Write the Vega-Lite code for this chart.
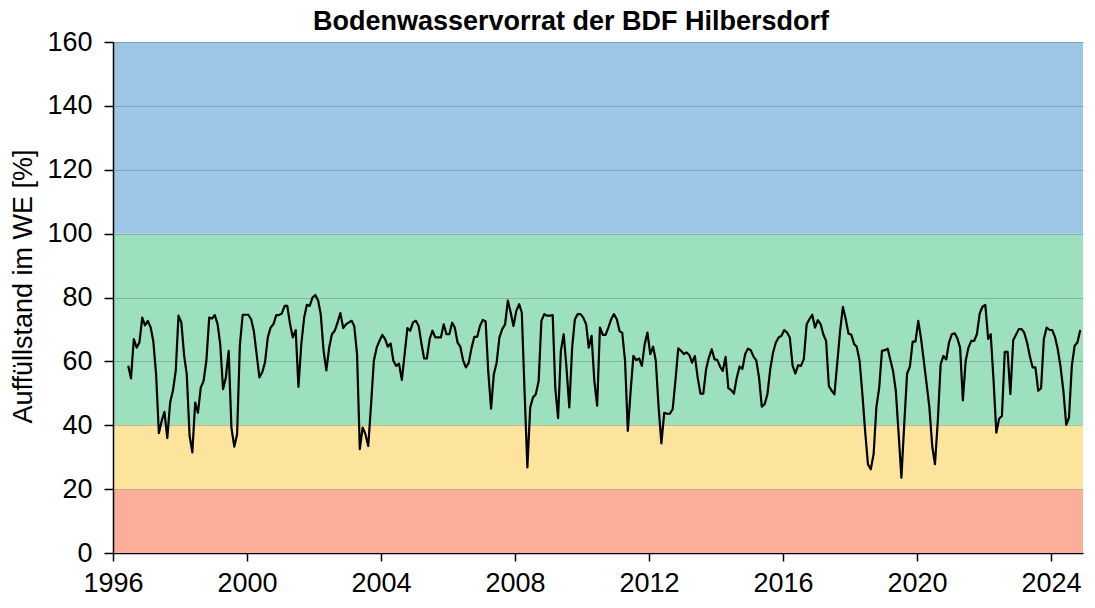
{
"$schema": "https://vega.github.io/schema/vega-lite/v6.json",
"width": 970,
"height": 511,
"autosize": {"type": "none"},
"padding": {"left": 113, "top": 42, "right": 12, "bottom": 55},
"background": "white",
"title": {"text": "Bodenwasservorrat der BDF Hilbersdorf", "font": "Liberation Sans", "fontSize": 27, "fontWeight": "bold", "color": "#000000", "anchor": "middle", "dx": -27, "offset": -8},
"config": {"view": {"stroke": null}, "font": "Liberation Sans"},
"datasets": {
"bands": [
{"lo": 0, "hi": 20, "c": "#FBAE98"},
{"lo": 20, "hi": 40, "c": "#FDE49C"},
{"lo": 40, "hi": 100, "c": "#9DE0BD"},
{"lo": 100, "hi": 160, "c": "#9CC6E6"}
],
"series": [
{"d":"1996-06-15","v":58.6},{"d":"1996-07-15","v":54.7},{"d":"1996-08-15","v":67},{"d":"1996-09-15","v":64.3},{"d":"1996-10-15","v":65.9},{"d":"1996-11-15","v":73.7},{"d":"1996-12-15","v":71.3},
{"d":"1997-01-15","v":72.7},{"d":"1997-02-15","v":70.6},{"d":"1997-03-15","v":66.4},{"d":"1997-04-15","v":56},{"d":"1997-05-15","v":37.5},{"d":"1997-06-15","v":41.4},{"d":"1997-07-15","v":44.2},{"d":"1997-08-15","v":36},{"d":"1997-09-15","v":47.1},{"d":"1997-10-15","v":50.8},{"d":"1997-11-15","v":57},{"d":"1997-12-15","v":74.3},
{"d":"1998-01-15","v":72.2},{"d":"1998-02-15","v":61.7},{"d":"1998-03-15","v":56},{"d":"1998-04-15","v":36.7},{"d":"1998-05-15","v":31.5},{"d":"1998-06-15","v":47.1},{"d":"1998-07-15","v":43.9},{"d":"1998-08-15","v":51.8},{"d":"1998-09-15","v":53.9},{"d":"1998-10-15","v":60.2},{"d":"1998-11-15","v":73.7},{"d":"1998-12-15","v":73.4},
{"d":"1999-01-15","v":74.5},{"d":"1999-02-15","v":71.6},{"d":"1999-03-15","v":65.4},{"d":"1999-04-15","v":51.3},{"d":"1999-05-15","v":54.9},{"d":"1999-06-15","v":63.3},{"d":"1999-07-15","v":39.3},{"d":"1999-08-15","v":33.3},{"d":"1999-09-15","v":37.2},{"d":"1999-10-15","v":65},{"d":"1999-11-15","v":74.6},{"d":"1999-12-15","v":74.6},
{"d":"2000-01-15","v":74.6},{"d":"2000-02-15","v":73.2},{"d":"2000-03-15","v":69.6},{"d":"2000-04-15","v":62.3},{"d":"2000-05-15","v":55},{"d":"2000-06-15","v":56.6},{"d":"2000-07-15","v":59.6},{"d":"2000-08-15","v":67.5},{"d":"2000-09-15","v":70.6},{"d":"2000-10-15","v":71.6},{"d":"2000-11-15","v":74.5},{"d":"2000-12-15","v":74.5},
{"d":"2001-01-15","v":75},{"d":"2001-02-15","v":77.4},{"d":"2001-03-15","v":77.4},{"d":"2001-04-15","v":71.6},{"d":"2001-05-15","v":67.5},{"d":"2001-06-15","v":69.8},{"d":"2001-07-15","v":52},{"d":"2001-08-15","v":65.4},{"d":"2001-09-15","v":73.7},{"d":"2001-10-15","v":77.7},{"d":"2001-11-15","v":77.4},{"d":"2001-12-15","v":80},
{"d":"2002-01-15","v":80.8},{"d":"2002-02-15","v":79},{"d":"2002-03-15","v":74.8},{"d":"2002-04-15","v":63.3},{"d":"2002-05-15","v":57.2},{"d":"2002-06-15","v":64.3},{"d":"2002-07-15","v":68.5},{"d":"2002-08-15","v":69.6},{"d":"2002-09-15","v":72.2},{"d":"2002-10-15","v":75.1},{"d":"2002-11-15","v":70.4},{"d":"2002-12-15","v":71.6},
{"d":"2003-01-15","v":72.2},{"d":"2003-02-15","v":72.7},{"d":"2003-03-15","v":71.1},{"d":"2003-04-15","v":62.3},{"d":"2003-05-15","v":32.5},{"d":"2003-06-15","v":39.3},{"d":"2003-07-15","v":37.2},{"d":"2003-08-15","v":33.5},{"d":"2003-09-15","v":46.6},{"d":"2003-10-15","v":60.2},{"d":"2003-11-15","v":64.3},{"d":"2003-12-15","v":66.4},
{"d":"2004-01-15","v":68.3},{"d":"2004-02-15","v":67},{"d":"2004-03-15","v":64.6},{"d":"2004-04-15","v":65.6},{"d":"2004-05-15","v":60.2},{"d":"2004-06-15","v":58.6},{"d":"2004-07-15","v":59.3},{"d":"2004-08-15","v":54.2},{"d":"2004-09-15","v":62.3},{"d":"2004-10-15","v":70.4},{"d":"2004-11-15","v":69.6},{"d":"2004-12-15","v":72.2},
{"d":"2005-01-15","v":72.7},{"d":"2005-02-15","v":71.1},{"d":"2005-03-15","v":65.9},{"d":"2005-04-15","v":60.9},{"d":"2005-05-15","v":60.9},{"d":"2005-06-15","v":67},{"d":"2005-07-15","v":69.6},{"d":"2005-08-15","v":67.5},{"d":"2005-09-15","v":67.5},{"d":"2005-10-15","v":67.5},{"d":"2005-11-15","v":71.6},{"d":"2005-12-15","v":68.5},
{"d":"2006-01-15","v":68.5},{"d":"2006-02-15","v":72.1},{"d":"2006-03-15","v":70.6},{"d":"2006-04-15","v":65.9},{"d":"2006-05-15","v":64.6},{"d":"2006-06-15","v":60.2},{"d":"2006-07-15","v":58.1},{"d":"2006-08-15","v":59.6},{"d":"2006-09-15","v":64.3},{"d":"2006-10-15","v":67.7},{"d":"2006-11-15","v":67.7},{"d":"2006-12-15","v":71.1},
{"d":"2007-01-15","v":73},{"d":"2007-02-15","v":72.5},{"d":"2007-03-15","v":57},{"d":"2007-04-15","v":45.2},{"d":"2007-05-15","v":56},{"d":"2007-06-15","v":59.6},{"d":"2007-07-15","v":67.5},{"d":"2007-08-15","v":70.1},{"d":"2007-09-15","v":71.6},{"d":"2007-10-15","v":79},{"d":"2007-11-15","v":75.3},{"d":"2007-12-15","v":71.1},
{"d":"2008-01-15","v":75.8},{"d":"2008-02-15","v":77.9},{"d":"2008-03-15","v":75.3},{"d":"2008-04-15","v":50},{"d":"2008-05-15","v":26.8},{"d":"2008-06-15","v":45.6},{"d":"2008-07-15","v":48.7},{"d":"2008-08-15","v":49.7},{"d":"2008-09-15","v":53.9},{"d":"2008-10-15","v":72.7},{"d":"2008-11-15","v":74.8},{"d":"2008-12-15","v":74.3},
{"d":"2009-01-15","v":74.3},{"d":"2009-02-15","v":74.5},{"d":"2009-03-15","v":51.8},{"d":"2009-04-15","v":42.2},{"d":"2009-05-15","v":63.3},{"d":"2009-06-15","v":68.5},{"d":"2009-07-15","v":58.1},{"d":"2009-08-15","v":45.6},{"d":"2009-09-15","v":64.3},{"d":"2009-10-15","v":73.2},{"d":"2009-11-15","v":74.8},{"d":"2009-12-15","v":74.8},
{"d":"2010-01-15","v":73.7},{"d":"2010-02-15","v":71.6},{"d":"2010-03-15","v":64.3},{"d":"2010-04-15","v":68},{"d":"2010-05-15","v":53.9},{"d":"2010-06-15","v":46.1},{"d":"2010-07-15","v":70.6},{"d":"2010-08-15","v":68.3},{"d":"2010-09-15","v":68.3},{"d":"2010-10-15","v":70.6},{"d":"2010-11-15","v":73.2},{"d":"2010-12-15","v":74.8},
{"d":"2011-01-15","v":73.2},{"d":"2011-02-15","v":69.4},{"d":"2011-03-15","v":69},{"d":"2011-04-15","v":60.2},{"d":"2011-05-15","v":38.2},{"d":"2011-06-15","v":50.8},{"d":"2011-07-15","v":61.7},{"d":"2011-08-15","v":60.4},{"d":"2011-09-15","v":60.9},{"d":"2011-10-15","v":58.6},{"d":"2011-11-15","v":65.4},{"d":"2011-12-15","v":69},
{"d":"2012-01-15","v":62.3},{"d":"2012-02-15","v":64.6},{"d":"2012-03-15","v":60.2},{"d":"2012-04-15","v":45.6},{"d":"2012-05-15","v":34.3},{"d":"2012-06-15","v":43.9},{"d":"2012-07-15","v":43.6},{"d":"2012-08-15","v":43.6},{"d":"2012-09-15","v":45},{"d":"2012-10-15","v":53.9},{"d":"2012-11-15","v":64.1},{"d":"2012-12-15","v":63.3},
{"d":"2013-01-15","v":62.3},{"d":"2013-02-15","v":62.8},{"d":"2013-03-15","v":62},{"d":"2013-04-15","v":59.6},{"d":"2013-05-15","v":61.7},{"d":"2013-06-15","v":54.9},{"d":"2013-07-15","v":49.9},{"d":"2013-08-15","v":49.9},{"d":"2013-09-15","v":57.6},{"d":"2013-10-15","v":61.2},{"d":"2013-11-15","v":63.8},{"d":"2013-12-15","v":60.7},
{"d":"2014-01-15","v":60.4},{"d":"2014-02-15","v":58.3},{"d":"2014-03-15","v":57},{"d":"2014-04-15","v":61.4},{"d":"2014-05-15","v":51.6},{"d":"2014-06-15","v":51},{"d":"2014-07-15","v":49.9},{"d":"2014-08-15","v":54.9},{"d":"2014-09-15","v":58.4},{"d":"2014-10-15","v":57.6},{"d":"2014-11-15","v":62.3},{"d":"2014-12-15","v":64},
{"d":"2015-01-15","v":63.5},{"d":"2015-02-15","v":61.4},{"d":"2015-03-15","v":60.4},{"d":"2015-04-15","v":54.9},{"d":"2015-05-15","v":45.8},{"d":"2015-06-15","v":46.6},{"d":"2015-07-15","v":49.7},{"d":"2015-08-15","v":57.6},{"d":"2015-09-15","v":62.8},{"d":"2015-10-15","v":65.9},{"d":"2015-11-15","v":67.5},{"d":"2015-12-15","v":68},
{"d":"2016-01-15","v":69.8},{"d":"2016-02-15","v":69},{"d":"2016-03-15","v":67.5},{"d":"2016-04-15","v":58.6},{"d":"2016-05-15","v":56.2},{"d":"2016-06-15","v":58.8},{"d":"2016-07-15","v":58.6},{"d":"2016-08-15","v":60.7},{"d":"2016-09-15","v":71.6},{"d":"2016-10-15","v":73.2},{"d":"2016-11-15","v":74.6},{"d":"2016-12-15","v":70.6},
{"d":"2017-01-15","v":72.9},{"d":"2017-02-15","v":71.6},{"d":"2017-03-15","v":68.5},{"d":"2017-04-15","v":66.4},{"d":"2017-05-15","v":52.3},{"d":"2017-06-15","v":50.8},{"d":"2017-07-15","v":49.7},{"d":"2017-08-15","v":59.6},{"d":"2017-09-15","v":69.6},{"d":"2017-10-15","v":77.1},{"d":"2017-11-15","v":73.2},{"d":"2017-12-15","v":68.7},
{"d":"2018-01-15","v":68.3},{"d":"2018-02-15","v":65.4},{"d":"2018-03-15","v":64.6},{"d":"2018-04-15","v":60.2},{"d":"2018-05-15","v":50},{"d":"2018-06-15","v":38},{"d":"2018-07-15","v":27.8},{"d":"2018-08-15","v":26.2},{"d":"2018-09-15","v":30.9},{"d":"2018-10-15","v":45.6},{"d":"2018-11-15","v":51.8},{"d":"2018-12-15","v":63.3},
{"d":"2019-01-15","v":63.5},{"d":"2019-02-15","v":64},{"d":"2019-03-15","v":60.7},{"d":"2019-04-15","v":57},{"d":"2019-05-15","v":50.8},{"d":"2019-06-15","v":37.2},{"d":"2019-07-15","v":23.6},{"d":"2019-08-15","v":40.3},{"d":"2019-09-15","v":56.2},{"d":"2019-10-15","v":58.3},{"d":"2019-11-15","v":66.2},{"d":"2019-12-15","v":66.2},
{"d":"2020-01-15","v":72.7},{"d":"2020-02-15","v":67},{"d":"2020-03-15","v":60.2},{"d":"2020-04-15","v":52.9},{"d":"2020-05-15","v":45.6},{"d":"2020-06-15","v":33.5},{"d":"2020-07-15","v":27.8},{"d":"2020-08-15","v":41.4},{"d":"2020-09-15","v":59.1},{"d":"2020-10-15","v":61.7},{"d":"2020-11-15","v":60.6},{"d":"2020-12-15","v":65.9},
{"d":"2021-01-15","v":68.5},{"d":"2021-02-15","v":68.8},{"d":"2021-03-15","v":67.3},{"d":"2021-04-15","v":64.3},{"d":"2021-05-15","v":47.8},{"d":"2021-06-15","v":60.2},{"d":"2021-07-15","v":64.3},{"d":"2021-08-15","v":66.4},{"d":"2021-09-15","v":66.4},{"d":"2021-10-15","v":68.5},{"d":"2021-11-15","v":75},{"d":"2021-12-15","v":77.1},
{"d":"2022-01-15","v":77.7},{"d":"2022-02-15","v":67},{"d":"2022-03-15","v":68.5},{"d":"2022-04-15","v":53.9},{"d":"2022-05-15","v":37.7},{"d":"2022-06-15","v":42.1},{"d":"2022-07-15","v":42.9},{"d":"2022-08-15","v":63},{"d":"2022-09-15","v":63},{"d":"2022-10-15","v":49.7},{"d":"2022-11-15","v":66.6},{"d":"2022-12-15","v":68.3},
{"d":"2023-01-15","v":70.1},{"d":"2023-02-15","v":70.1},{"d":"2023-03-15","v":69},{"d":"2023-04-15","v":65.9},{"d":"2023-05-15","v":61.7},{"d":"2023-06-15","v":58.1},{"d":"2023-07-15","v":58.1},{"d":"2023-08-15","v":50.8},{"d":"2023-09-15","v":51.6},{"d":"2023-10-15","v":67},{"d":"2023-11-15","v":70.6},{"d":"2023-12-15","v":69.9},
{"d":"2024-01-15","v":69.8},{"d":"2024-02-15","v":67.5},{"d":"2024-03-15","v":63.8},{"d":"2024-04-15","v":58.1},{"d":"2024-05-15","v":50.8},{"d":"2024-06-15","v":40.1},{"d":"2024-07-15","v":42.4},{"d":"2024-08-15","v":58.6},{"d":"2024-09-15","v":64.9},{"d":"2024-10-15","v":65.9},{"d":"2024-11-15","v":69.8}
]
},
"layer": [
{
"data": {"name": "bands"},
"mark": {"type": "rect"},
"encoding": {
"y": {"field": "lo", "type": "quantitative", "scale": {"domain": [0, 160], "nice": false},
"axis": {"title": "Auffüllstand im WE [%]", "values": [0,20,40,60,80,100,120,140,160], "grid": true, "gridColor": "#000000", "gridOpacity": 0.18, "gridWidth": 1, "domainColor": "#000000", "domainWidth": 1.5, "tickColor": "#000000", "tickSize": 9, "tickWidth": 1.5, "labelFontSize": 27, "labelColor": "#000000", "labelPadding": 12, "titleFontSize": 27, "titleFontWeight": "normal", "titleColor": "#000000", "titlePadding": 9, "titleY": 244, "zindex": 1}},
"y2": {"field": "hi"},
"color": {"field": "c", "type": "nominal", "scale": null, "legend": null}
}
},
{
"data": {"name": "series"},
"mark": {"type": "line", "color": "#000000", "strokeWidth": 2.2, "strokeJoin": "round"},
"encoding": {
"x": {"field": "d", "type": "temporal",
"scale": {"type": "utc", "domain": [{"year": 1996, "month": 1, "date": 1, "utc": true}, {"year": 2024, "month": 12, "date": 15, "utc": true}]},
"axis": {"title": null, "format": "%Y", "values": [{"year":1996,"utc":true},{"year":2000,"utc":true},{"year":2004,"utc":true},{"year":2008,"utc":true},{"year":2012,"utc":true},{"year":2016,"utc":true},{"year":2020,"utc":true},{"year":2024,"utc":true}], "grid": false, "domainColor": "#000000", "domainWidth": 1.5, "tickColor": "#000000", "tickSize": 8, "tickWidth": 1.5, "labelFontSize": 27, "labelColor": "#000000", "labelPadding": 9, "labelFlush": false, "labelOverlap": false}},
"y": {"field": "v", "type": "quantitative",
"axis": {"title": "Auffüllstand im WE [%]", "values": [0,20,40,60,80,100,120,140,160], "grid": true, "gridColor": "#000000", "gridOpacity": 0.18, "gridWidth": 1, "domainColor": "#000000", "domainWidth": 1.5, "tickColor": "#000000", "tickSize": 9, "tickWidth": 1.5, "labelFontSize": 27, "labelColor": "#000000", "labelPadding": 12, "titleFontSize": 27, "titleFontWeight": "normal", "titleColor": "#000000", "titlePadding": 9, "titleY": 244, "zindex": 1}}
}
}
]
}
